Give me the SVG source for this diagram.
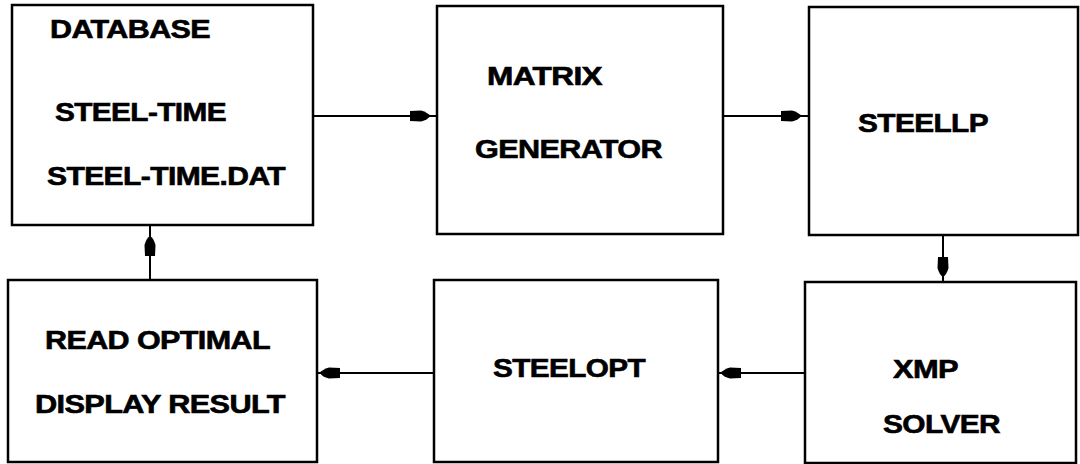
<svg xmlns="http://www.w3.org/2000/svg" width="1080" height="464" viewBox="0 0 1080 464">
<style>
.box{fill:none;stroke:#000;stroke-width:2.5}
.t{font-family:"Liberation Sans",Arial,sans-serif;font-weight:bold;font-size:25px;fill:#000;stroke:#000;stroke-width:0.6;letter-spacing:-0.5px}
.c{fill:none;stroke:#000;stroke-width:2}
</style>
<defs>
<marker id="ah" markerUnits="userSpaceOnUse" markerWidth="26" markerHeight="16" viewBox="-22 -8 26 16" refX="0" refY="0" orient="auto">
<path d="M-20,-5 L-9,-5.5 Q-2,-3.5 0,0 Q-2,3.5 -9,5.5 L-20,5 Z" fill="#000"/>
</marker>
</defs>
<rect width="1080" height="464" fill="#fff"/>
<g id="connectors">
<path class="c" d="M313,116 H430 H437" marker-mid="url(#ah)"/>
<path class="c" d="M723,116 H801 H808" marker-mid="url(#ah)"/>
<path class="c" d="M943,235 V277 V281" marker-mid="url(#ah)"/>
<path class="c" d="M805,373 H721 H718" marker-mid="url(#ah)"/>
<path class="c" d="M434,373 H320 H317" marker-mid="url(#ah)"/>
<path class="c" d="M150,280 V236 V225" marker-mid="url(#ah)"/>
</g>
<g id="database">
<rect class="box" x="12" y="5" width="301" height="220"/>
<text class="t" x="50" y="38" textLength="160" lengthAdjust="spacingAndGlyphs">DATABASE</text>
<text class="t" x="55" y="121" textLength="171" lengthAdjust="spacingAndGlyphs">STEEL-TIME</text>
<text class="t" x="47" y="185" textLength="238" lengthAdjust="spacingAndGlyphs">STEEL-TIME.DAT</text>
</g>
<g id="matrix-generator">
<rect class="box" x="437" y="6" width="286" height="228"/>
<text class="t" x="487" y="85" textLength="115" lengthAdjust="spacingAndGlyphs">MATRIX</text>
<text class="t" x="475" y="158" textLength="187" lengthAdjust="spacingAndGlyphs">GENERATOR</text>
</g>
<g id="steellp">
<rect class="box" x="809" y="7" width="269" height="228"/>
<text class="t" x="858" y="132" textLength="130" lengthAdjust="spacingAndGlyphs">STEELLP</text>
</g>
<g id="xmp-solver">
<rect class="box" x="805" y="282" width="271" height="181"/>
<text class="t" x="893" y="378" textLength="65" lengthAdjust="spacingAndGlyphs">XMP</text>
<text class="t" x="883" y="433" textLength="117" lengthAdjust="spacingAndGlyphs">SOLVER</text>
</g>
<g id="steelopt">
<rect class="box" x="434" y="280" width="284" height="182"/>
<text class="t" x="493" y="377" textLength="152" lengthAdjust="spacingAndGlyphs">STEELOPT</text>
</g>
<g id="read-optimal">
<rect class="box" x="8" y="280" width="309" height="182"/>
<text class="t" x="45" y="349" textLength="225" lengthAdjust="spacingAndGlyphs">READ OPTIMAL</text>
<text class="t" x="35" y="413" textLength="250" lengthAdjust="spacingAndGlyphs">DISPLAY RESULT</text>
</g>
</svg>
